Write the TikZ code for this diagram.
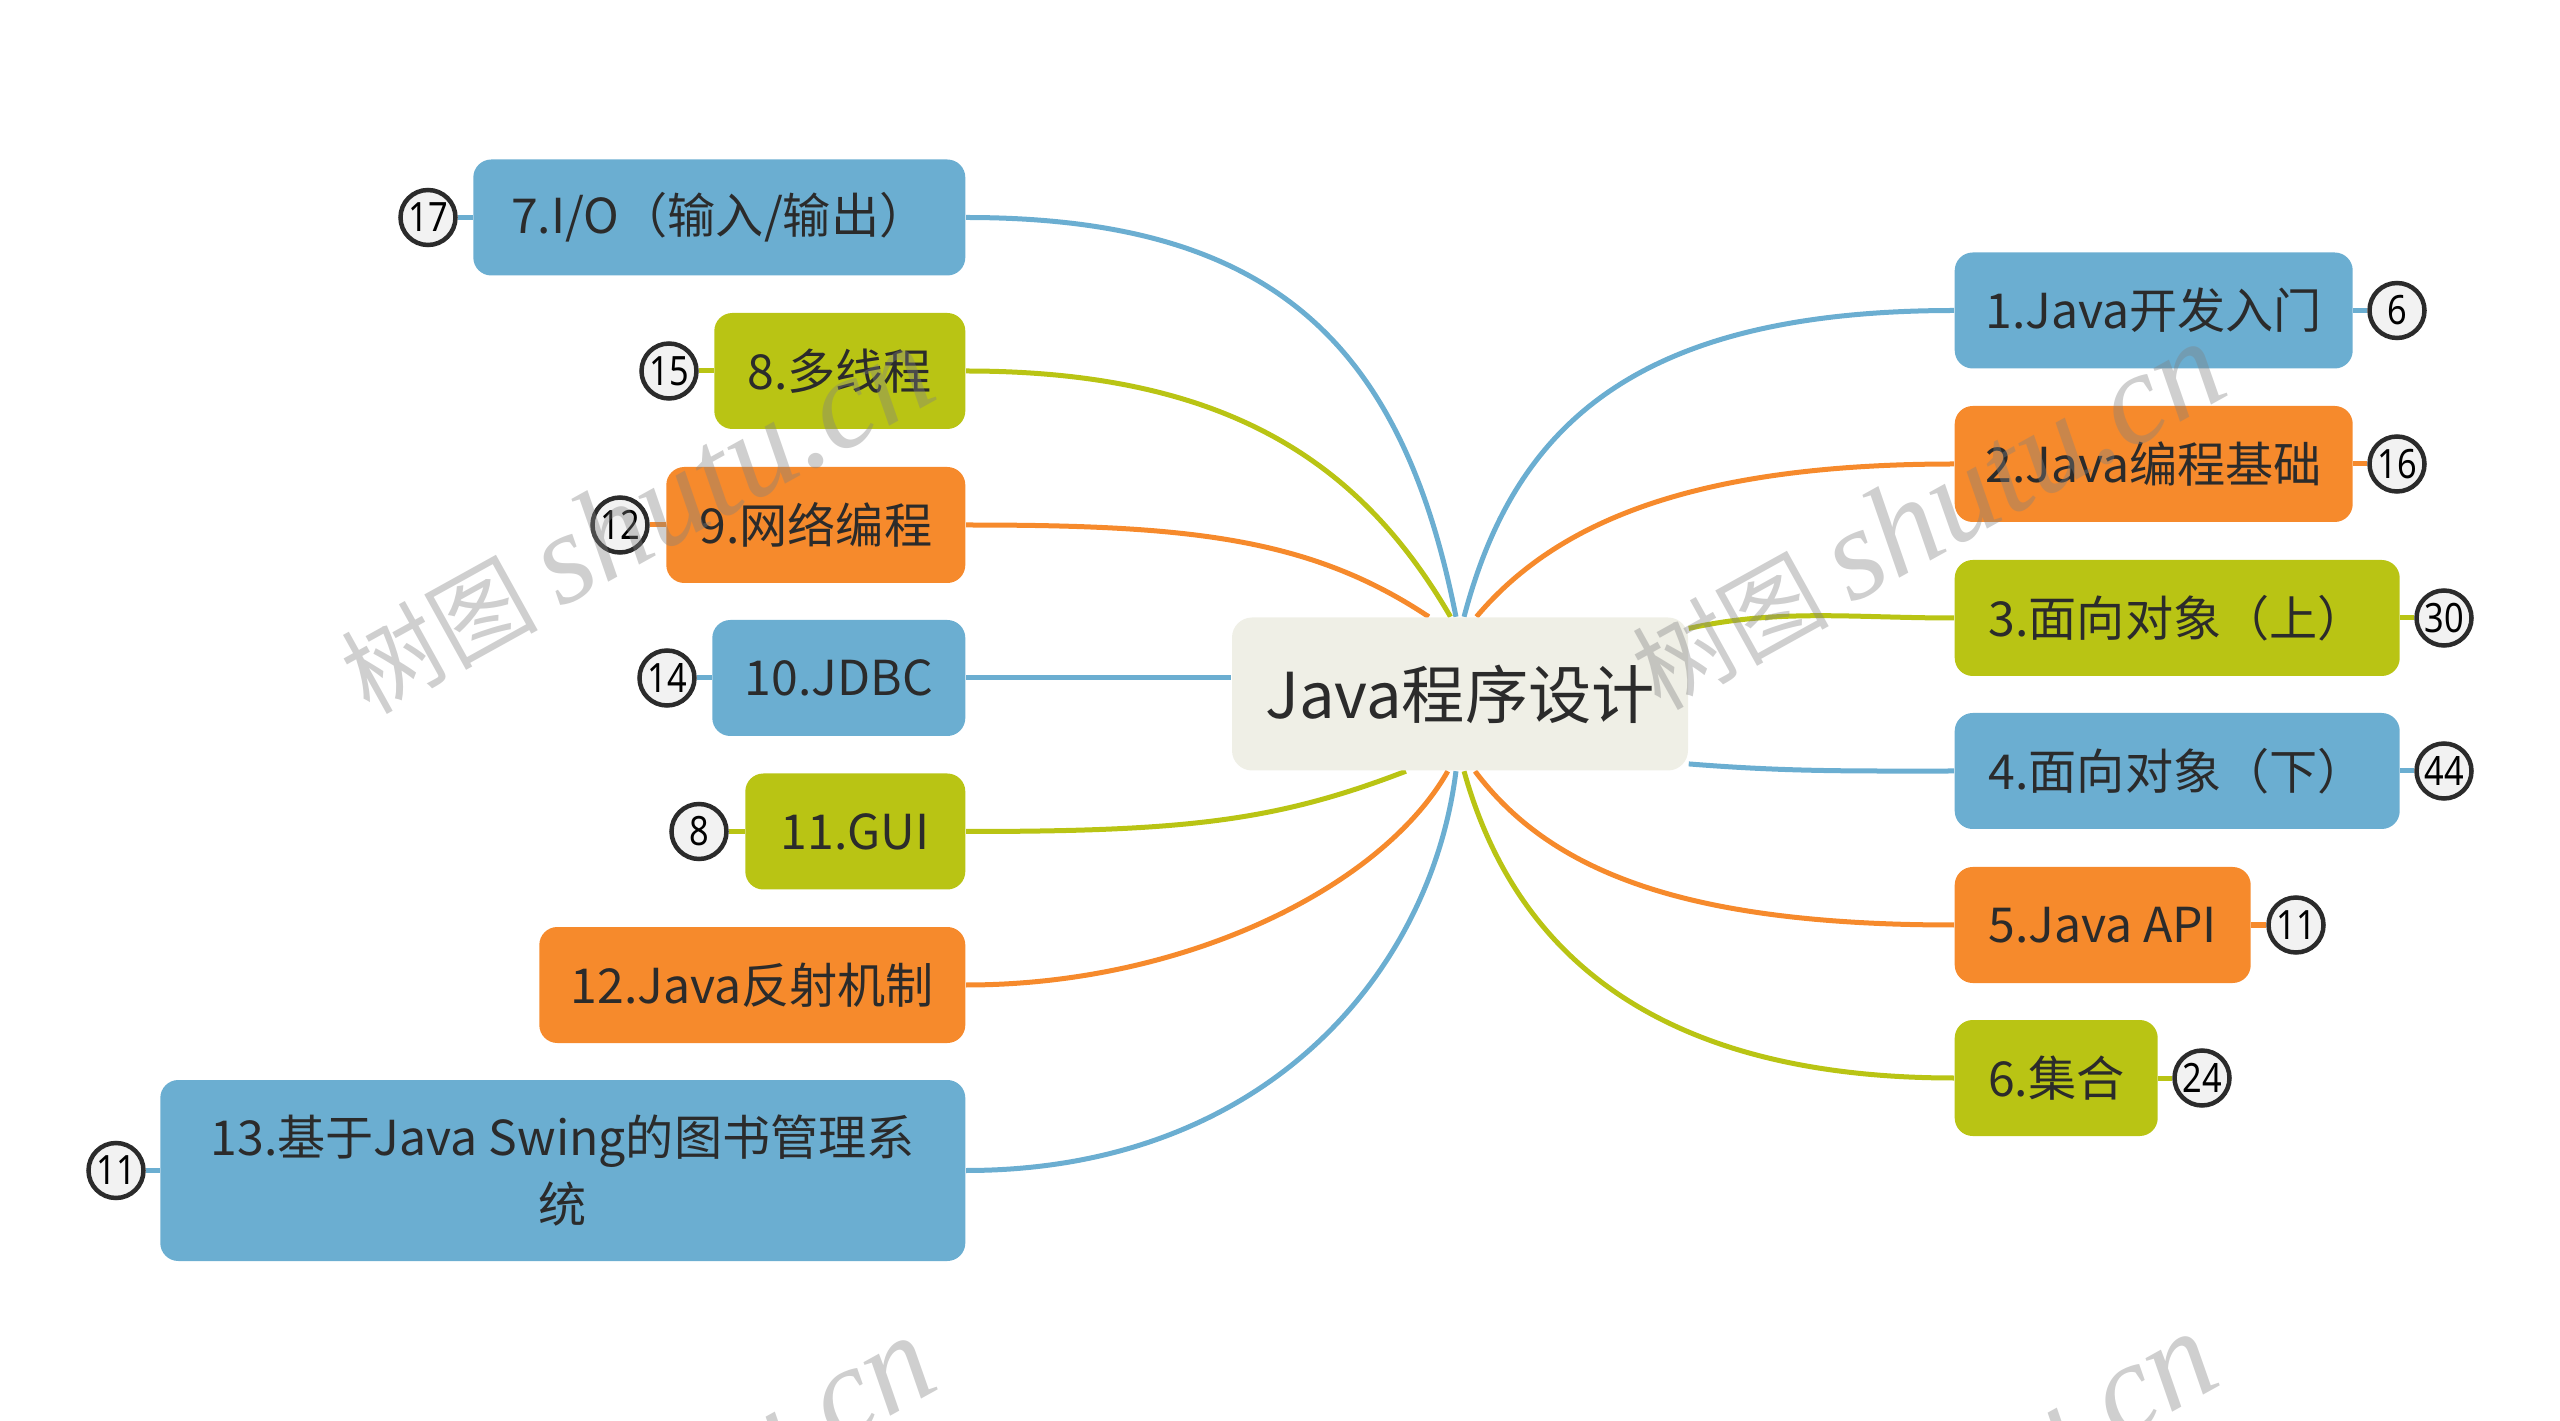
\documentclass[tikz,border=0pt]{standalone}
\usepackage{fontspec}
\setmainfont{Noto Sans CJK SC}
\newfontfamily\markfont{Liberation Serif}
\newfontfamily\badgefont[FakeStretch=0.85]{Noto Sans}
\usetikzlibrary{backgrounds}

\definecolor{bluebr}{HTML}{6BAED1}
\definecolor{greenbr}{HTML}{B9C414}
\definecolor{orangebr}{HTML}{F68A2C}
\definecolor{rootbg}{HTML}{EFEFE6}
\definecolor{inkc}{HTML}{2B2B2B}

\tikzset{
  topic/.style={rounded corners=0.18cm,minimum height=1.16cm,inner sep=0pt,align=center,
    text=inkc,font=\fontsize{13.7}{19}\selectfont},
  leftt/.style={topic,anchor=east,minimum width=#1 cm},
  rightt/.style={topic,anchor=west,minimum width=#1 cm},
  badge/.style={circle,draw=inkc,line width=0.045cm,fill=white!95!black,minimum size=0.55cm,
    inner sep=0pt,text=black,font=\badgefont\fontsize{11.5}{13}\selectfont},
  branch/.style={line width=0.05cm},
  wmark/.style={rotate=29,text=gray,opacity=0.38,inner sep=0pt,font=\fontsize{28}{36}\selectfont},
}
\newcommand{\wtext}{树图 {\markfont\itshape\fontsize{37}{40}\selectfont shutu.cn}}

\begin{document}
\begin{tikzpicture}[x=1cm,y=-1cm]
  \useasboundingbox (0,0) rectangle (25.6,14.21);

  \node[topic,fill=rootbg,rounded corners=0.2cm,minimum width=4.56cm,minimum height=1.53cm,
    font=\fontsize{18}{22}\selectfont] (root) at (14.60,6.94) {Java程序设计};

  % left side
  \node[leftt=4.92,fill=bluebr] (b7) at (9.66,2.175) {7.I/O（输入/输出）};
  \node[leftt=2.51,fill=greenbr] (b8) at (9.66,3.71) {8.多线程};
  \node[leftt=2.99,fill=orangebr] (b9) at (9.66,5.25) {9.网络编程};
  \node[leftt=2.53,fill=bluebr] (b10) at (9.66,6.78) {10.JDBC};
  \node[leftt=2.20,fill=greenbr] (b11) at (9.66,8.315) {11.GUI};
  \node[leftt=4.26,fill=orangebr] (b12) at (9.66,9.85) {12.Java反射机制};
  \node[leftt=8.05,minimum height=1.81cm,fill=bluebr] (b13) at (9.66,11.705) {13.基于Java Swing的图书管理系\\统};

  % right side
  \node[rightt=3.98,fill=bluebr] (b1) at (19.54,3.105) {1.Java开发入门};
  \node[rightt=3.98,fill=orangebr] (b2) at (19.54,4.64) {2.Java编程基础};
  \node[rightt=4.45,fill=greenbr] (b3) at (19.54,6.18) {3.面向对象（上）};
  \node[rightt=4.45,fill=bluebr] (b4) at (19.54,7.71) {4.面向对象（下）};
  \node[rightt=2.96,fill=orangebr] (b5) at (19.54,9.25) {5.Java API};
  \node[rightt=2.03,fill=greenbr] (b6) at (19.54,10.78) {6.集合};

  % counters
  \node[badge] (n7) at (4.28,2.175) {17};
  \node[badge] (n8) at (6.69,3.71) {15};
  \node[badge] (n9) at (6.20,5.25) {12};
  \node[badge] (n10) at (6.67,6.78) {14};
  \node[badge] (n11) at (6.99,8.315) {8};
  \node[badge] (n13) at (1.16,11.705) {11};
  \node[badge] (n1) at (23.97,3.105) {6};
  \node[badge] (n2) at (23.97,4.64) {16};
  \node[badge] (n3) at (24.44,6.18) {30};
  \node[badge] (n4) at (24.44,7.71) {44};
  \node[badge] (n5) at (22.96,9.25) {11};
  \node[badge] (n6) at (22.02,10.78) {24};

  \begin{scope}[on background layer]
    \draw[branch,bluebr] (b7.east) .. controls +(3.0,0) and +(-0.55,-2.8) .. (root.93);
    \draw[branch,greenbr] (b8.east) .. controls +(2.6,0) and +(-0.9,-1.55) .. (root.97.4);
    \draw[branch,orangebr] (b9.east) .. controls +(2.2,0) and +(-1.2,-0.8) .. (root.112.7);
    \draw[branch,bluebr] (b10.east) -- (b10.east -| root.west);
    \draw[branch,greenbr] (b11.east) .. controls +(2.2,0) and +(-1.3,0.5) .. (root.235.3);
    \draw[branch,orangebr] (b12.east) .. controls +(2.2,0) and +(-0.65,1.15) .. (root.261.8);
    \draw[branch,bluebr] (b13.east) .. controls +(3.0,0) and +(-0.25,2.0) .. (root.267);

    \draw[branch,bluebr] (b1.west) .. controls +(-3.2,0) and +(0.5,-1.9) .. (root.87);
    \draw[branch,orangebr] (b2.west) .. controls +(-2.6,0) and +(0.8,-0.95) .. (root.78.2);
    \draw[branch,greenbr] (b3.west) .. controls +(-1,0) and +(0.9,-0.2) .. (root.16.8);
    \draw[branch,bluebr] (b4.west) .. controls +(-1,0) and +(1,0.08) .. (root.343.4);
    \draw[branch,orangebr] (b5.west) .. controls +(-2.7,0) and +(0.75,1.0) .. (root.281.8);
    \draw[branch,greenbr] (b6.west) .. controls +(-3.0,0) and +(0.5,1.8) .. (root.273);

    \draw[branch,bluebr] (n7) -- (b7);
    \draw[branch,greenbr] (n8) -- (b8);
    \draw[branch,orangebr] (n9) -- (b9);
    \draw[branch,bluebr] (n10) -- (b10);
    \draw[branch,greenbr] (n11) -- (b11);
    \draw[branch,bluebr] (n13) -- (b13);
    \draw[branch,bluebr] (n1) -- (b1);
    \draw[branch,orangebr] (n2) -- (b2);
    \draw[branch,greenbr] (n3) -- (b3);
    \draw[branch,bluebr] (n4) -- (b4);
    \draw[branch,orangebr] (n5) -- (b5);
    \draw[branch,greenbr] (n6) -- (b6);
  \end{scope}

  % watermarks
  \node[wmark] (w1) at (6.36,5.20) {\wtext};
  \node[wmark] (w2) at (19.27,5.16) {\wtext};
  \node[wmark] (w3) at (6.37,15.10) {\wtext};
  \node[wmark] (w4) at (19.19,15.06) {\wtext};
\end{tikzpicture}
\end{document}
